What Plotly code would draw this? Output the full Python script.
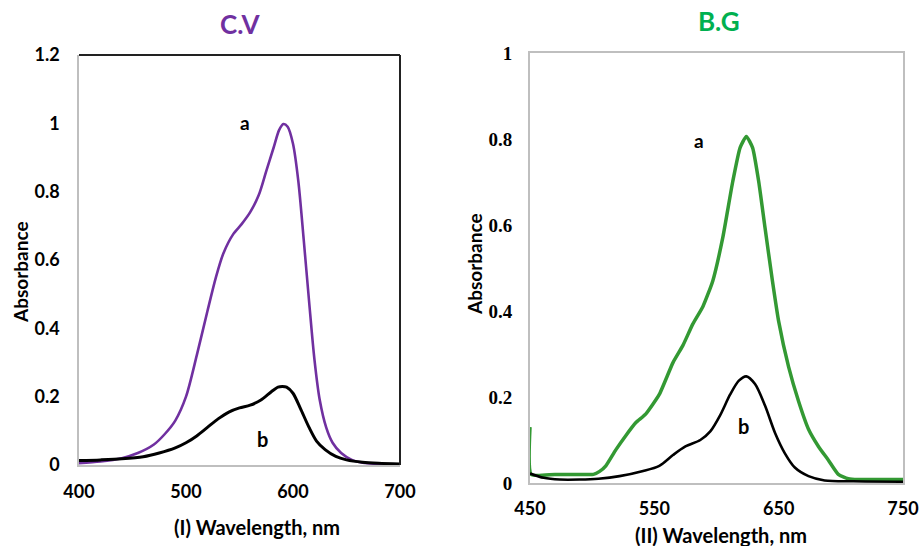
import plotly.graph_objects as go

# ---------------- Panel I : C.V ----------------
cv_wl_a = [400, 420, 440, 455, 470, 480, 490, 500, 510, 520, 528, 535, 544, 552, 560, 568, 575, 582, 587, 591, 595, 600, 605, 610, 615, 620, 625, 631, 637, 645, 655, 665, 680, 700]
cv_abs_a = [0.005, 0.010, 0.020, 0.035, 0.060, 0.09, 0.13, 0.20, 0.32, 0.45, 0.55, 0.62, 0.675, 0.705, 0.74, 0.79, 0.86, 0.93, 0.98, 0.998, 0.99, 0.94, 0.83, 0.66, 0.48, 0.31, 0.19, 0.11, 0.065, 0.035, 0.015, 0.007, 0.003, 0.002]

cv_wl_b = [400, 420, 440, 460, 475, 490, 500, 510, 520, 530, 540, 550, 560, 570, 580, 586, 590, 594, 600, 607, 615, 622, 630, 640, 650, 665, 680, 700]
cv_abs_b = [0.013, 0.015, 0.018, 0.024, 0.035, 0.050, 0.065, 0.085, 0.11, 0.135, 0.155, 0.167, 0.175, 0.19, 0.215, 0.228, 0.23, 0.228, 0.21, 0.165, 0.11, 0.07, 0.045, 0.025, 0.015, 0.008, 0.005, 0.003]

# ---------------- Panel II : B.G ----------------
bg_wl_a = [450, 451, 470, 490, 501, 506, 511, 519, 527, 535, 543, 554, 565, 573, 581, 589, 597, 605, 613, 619, 624, 629, 634, 639, 645, 650, 658, 666, 674, 682, 690, 698, 706, 714, 730, 750]
bg_abs_a = [0.13, 0.02, 0.02, 0.02, 0.02, 0.027, 0.04, 0.077, 0.11, 0.14, 0.16, 0.206, 0.28, 0.32, 0.37, 0.41, 0.47, 0.57, 0.70, 0.78, 0.806, 0.78, 0.70, 0.594, 0.47, 0.376, 0.27, 0.19, 0.125, 0.085, 0.053, 0.02, 0.01, 0.008, 0.008, 0.008]

bg_wl_b = [450, 461, 474, 490, 505, 522, 541, 554, 565, 575, 587, 595, 603, 611, 618, 624, 631, 639, 647, 655, 663, 674, 687, 710, 750]
bg_abs_b = [0.022, 0.012, 0.008, 0.008, 0.010, 0.016, 0.028, 0.04, 0.065, 0.085, 0.10, 0.12, 0.158, 0.206, 0.238, 0.248, 0.23, 0.18, 0.117, 0.069, 0.036, 0.016, 0.006, 0.004, 0.003]

cv_xticks = [400, 500, 600, 700]
cv_yticks = [0, 0.2, 0.4, 0.6, 0.8, 1, 1.2]
cv_yticklabels = ["0", "0.2", "0.4", "0.6", "0.8", "1", "1.2"]
bg_xticks = [450, 550, 650, 750]
bg_yticks = [0, 0.2, 0.4, 0.6, 0.8, 1]
bg_yticklabels = ["0", "0.2", "0.4", "0.6", "0.8", "1"]

PURPLE = "#7030A0"
GREEN_LINE = "#339933"
GREEN_TITLE = "#00B050"
SANS = "Lato"
SERIF = "Liberation Serif"

fig = go.Figure()
fig.add_trace(go.Scatter(x=cv_wl_a, y=cv_abs_a, mode="lines", line=dict(color=PURPLE, width=2.6, shape="spline", smoothing=0.8), xaxis="x", yaxis="y", showlegend=False))
fig.add_trace(go.Scatter(x=cv_wl_b, y=cv_abs_b, mode="lines", line=dict(color="black", width=3, shape="spline", smoothing=0.8), xaxis="x", yaxis="y", showlegend=False))
fig.add_trace(go.Scatter(x=bg_wl_a, y=bg_abs_a, mode="lines", line=dict(color=GREEN_LINE, width=3.5, shape="spline", smoothing=0.5), xaxis="x2", yaxis="y2", showlegend=False))
fig.add_trace(go.Scatter(x=bg_wl_b, y=bg_abs_b, mode="lines", line=dict(color="black", width=2.6, shape="spline", smoothing=0.8), xaxis="x2", yaxis="y2", showlegend=False))

W, H = 921, 546
def px(x):
    return x / W
def py(y):
    return 1 - y / H

tick_sans = dict(family=SANS, size=18, color="black", weight="bold")
tick_serif = dict(family=SERIF, size=19, color="black", weight="bold")
GREY = "#BFBFBF"

fig.update_layout(
    width=W, height=H, margin=dict(l=0, r=0, t=0, b=0, autoexpand=False),
    paper_bgcolor="white", plot_bgcolor="white",
    xaxis=dict(domain=[px(79), px(400)], range=[400, 700], tickvals=cv_xticks, showgrid=False, zeroline=False,
               showline=True, linecolor=GREY, linewidth=1.5, ticks="outside", ticklen=10, tickcolor="rgba(0,0,0,0)",
               tickfont=tick_sans, anchor="y", automargin=False),
    yaxis=dict(domain=[py(465), py(55)], range=[0, 1.2], tickvals=cv_yticks, ticktext=cv_yticklabels, showgrid=False, zeroline=False,
               showline=True, linecolor=GREY, linewidth=1.5, ticks="outside", ticklen=14, tickcolor="rgba(0,0,0,0)",
               tickfont=tick_sans, anchor="x", automargin=False),
    xaxis2=dict(domain=[px(530), px(903)], range=[450, 750], tickvals=bg_xticks, showgrid=False, zeroline=False,
                showline=True, mirror=True, linecolor=GREY, linewidth=2, ticks="outside", ticklen=8, tickcolor="rgba(0,0,0,0)",
                tickfont=tick_sans, anchor="y2", automargin=False),
    yaxis2=dict(domain=[py(483), py(53)], range=[0, 1], tickvals=bg_yticks, ticktext=bg_yticklabels, showgrid=False, zeroline=False,
                showline=True, mirror=True, linecolor=GREY, linewidth=2, ticks="outside", ticklen=12, tickcolor="rgba(0,0,0,0)",
                tickfont=tick_serif, anchor="x2", automargin=False),
)

# black top and right borders of panel I
fig.add_shape(type="line", xref="x domain", yref="y domain", x0=0, x1=1, y0=1, y1=1, line=dict(color="#222222", width=2))
fig.add_shape(type="line", xref="x domain", yref="y domain", x0=1, x1=1, y0=0, y1=1, line=dict(color="#222222", width=2))

def ann(text, x, y, size, color="black", angle=0, family=SANS):
    fig.add_annotation(text=text, x=px(x), y=py(y), xref="paper", yref="paper", showarrow=False,
                       xanchor="center", yanchor="middle", textangle=angle,
                       font=dict(family=family, size=size, color=color, weight="bold"))

ann("C.V", 240, 24, 26, PURPLE)
ann("B.G", 719, 21, 26, GREEN_TITLE)
ann("Absorbance", 20, 272, 19, angle=-90)
ann("Absorbance", 474, 264, 19, angle=-90)
ann("(I) Wavelength, nm", 257, 527, 20)
ann("(II) Wavelength, nm", 721, 535, 20)
ann("a", 245, 123, 19)
ann("b", 262, 439, 20)
ann("a", 699, 140, 19)
ann("b", 743, 426, 20)

fig.write_html("out.html", config={"displayModeBar": False},
               post_script="document.body.style.margin='0px';document.body.style.padding='0px';document.body.style.overflow='hidden';")
